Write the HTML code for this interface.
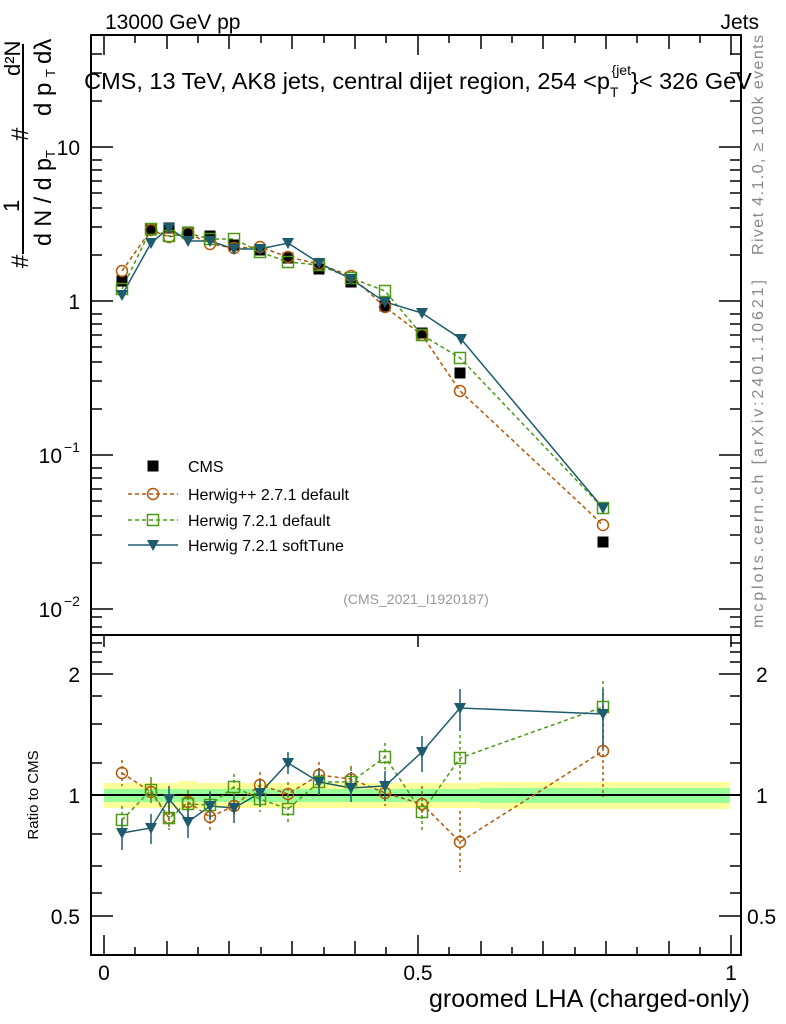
<!DOCTYPE html>
<html><head><meta charset="utf-8"><style>
body{margin:0;background:#fff}
svg{display:block;font-family:"Liberation Sans",sans-serif}
</style></head><body>
<svg width="786" height="1024" viewBox="0 0 786 1024" xmlns="http://www.w3.org/2000/svg">
<defs>
<rect id="cms" x="-5.5" y="-5.5" width="11" height="11" fill="#000"/>
<circle id="hc" r="5.5" fill="none" stroke="#b35806" stroke-width="1.5"/>
<rect id="gs" x="-5.5" y="-5.5" width="11" height="11" fill="none" stroke="#4d9a14" stroke-width="1.5"/>
<path id="st" d="M-6,-5 L6,-5 L0,6 Z" fill="#1d5c6e"/>
</defs>
<text x="105" y="29" font-size="21">13000 GeV pp</text>
<text x="759" y="29" font-size="21" text-anchor="end">Jets</text>

<rect x="91" y="35" width="650" height="600" fill="none" stroke="#000" stroke-width="2"/>
<g stroke="#000" stroke-width="1.5">
<path d="M91,147h22M91,301h22M91,455h22M91,609h22M741,147h-22M741,301h-22M741,455h-22M741,609h-22"/>
<path d="M91,54h11M91,73h11M91,101h11M91,255h11M91,227h11M91,208h11M91,193h11M91,181h11M91,170h11M91,160h11M91,409h11M91,381h11M91,362h11M91,347h11M91,335h11M91,324h11M91,314h11M91,563h11M91,535h11M91,516h11M91,501h11M91,489h11M91,478h11M91,468h11M91,617h11M91,627h11"/>
<path d="M741,54h-11M741,73h-11M741,101h-11M741,255h-11M741,227h-11M741,208h-11M741,193h-11M741,181h-11M741,170h-11M741,160h-11M741,409h-11M741,381h-11M741,362h-11M741,347h-11M741,335h-11M741,324h-11M741,314h-11M741,563h-11M741,535h-11M741,516h-11M741,501h-11M741,489h-11M741,478h-11M741,468h-11M741,617h-11M741,627h-11"/>
<path d="M104,35v20M418,35v20M731,35v20M135,35v8M167,35v14M198,35v8M229,35v14M261,35v8M292,35v14M324,35v8M355,35v14M386,35v8M449,35v8M481,35v14M512,35v8M543,35v14M575,35v8M606,35v14M637,35v8M669,35v14M700,35v8"/>
</g>
<text x="80" y="155" font-size="21" text-anchor="end">10</text>
<text x="80" y="309" font-size="21" text-anchor="end">1</text>
<text x="62" y="463" font-size="21" text-anchor="end">10</text><text x="64" y="452" font-size="14">−1</text>
<text x="62" y="617" font-size="21" text-anchor="end">10</text><text x="64" y="606" font-size="14">−2</text>

<g transform="rotate(-90)" font-size="24">
<text x="-268" y="28">#</text>
<text x="-212" y="19" font-size="22">1</text>
<rect x="-254" y="22" width="210" height="2" fill="#000"/>
<text x="-246" y="51" textLength="88" lengthAdjust="spacingAndGlyphs">d N / d p</text><text x="-158" y="55" font-size="13">T</text>
<text x="-141" y="28">#</text>
<text x="-76" y="20" font-size="22">d²N</text>
<text x="-116" y="51">d p</text><text x="-77" y="55" font-size="13">T</text><text x="-64" y="51">dλ</text>
</g>

<text x="418" y="89" font-size="23.5" text-anchor="middle">CMS, 13 TeV, AK8 jets, central dijet region, 254 &lt;p<tspan font-size="14" dy="8">T</tspan><tspan font-size="14" dy="-22" dx="-7">{jet</tspan><tspan dy="14">}&lt; 326 GeV</tspan></text>

<text transform="translate(763,255) rotate(-90)" font-size="16" fill="#888" textLength="220" lengthAdjust="spacing">Rivet 4.1.0, ≥ 100k events</text>
<text transform="translate(763,628) rotate(-90)" font-size="16" fill="#888" textLength="348" lengthAdjust="spacing">mcplots.cern.ch [arXiv:2401.10621]</text>

<use href="#cms" x="153" y="466"/><text x="188" y="472" font-size="16">CMS</text>
<path d="M128,494h50" stroke="#b35806" stroke-width="1.5" stroke-dasharray="4,3"/><use href="#hc" x="153" y="494"/><text x="188" y="500" font-size="16">Herwig++ 2.7.1 default</text>
<path d="M128,520h50" stroke="#4d9a14" stroke-width="1.5" stroke-dasharray="4,3"/><use href="#gs" x="153" y="520"/><text x="188" y="526" font-size="16">Herwig 7.2.1 default</text>
<path d="M128,545h50" stroke="#1d5c6e" stroke-width="1.5"/><use href="#st" x="153" y="545"/><text x="188" y="551" font-size="16">Herwig 7.2.1 softTune</text>
<text x="416" y="604" font-size="14" fill="#999" text-anchor="middle">(CMS_2021_I1920187)</text>

<polyline fill="none" stroke="#b35806" stroke-width="1.5" stroke-dasharray="4,3" points="122,271 151,230 169,237 188,233 210,244 234,248 260,247 288,257 319,264 351,276 385,307 422,335 460,391 603,525"/>
<polyline fill="none" stroke="#4d9a14" stroke-width="1.5" stroke-dasharray="4,3" points="122,289 151,229 169,236 188,233 210,239 234,239 260,252 288,262 319,265 351,278 385,291 422,335 460,358 603,508"/>
<polyline fill="none" stroke="#1d5c6e" stroke-width="1.5" points="122,295 151,243 169,228 188,241 210,241 234,249 260,249 288,243 319,263 351,279 385,302 422,313 461,339 603,508"/>
<g>
<use href="#cms" x="122" y="281"/><use href="#cms" x="151" y="230"/><use href="#cms" x="169" y="228"/><use href="#cms" x="188" y="232"/><use href="#cms" x="210" y="236"/><use href="#cms" x="234" y="245"/><use href="#cms" x="260" y="250"/><use href="#cms" x="288" y="258"/><use href="#cms" x="319" y="269"/><use href="#cms" x="351" y="282"/><use href="#cms" x="385" y="306"/><use href="#cms" x="422" y="333"/><use href="#cms" x="460" y="373"/><use href="#cms" x="603" y="542"/>
<use href="#hc" x="122" y="271"/><use href="#hc" x="151" y="230"/><use href="#hc" x="169" y="237"/><use href="#hc" x="188" y="233"/><use href="#hc" x="210" y="244"/><use href="#hc" x="234" y="248"/><use href="#hc" x="260" y="247"/><use href="#hc" x="288" y="257"/><use href="#hc" x="319" y="264"/><use href="#hc" x="351" y="276"/><use href="#hc" x="385" y="307"/><use href="#hc" x="422" y="335"/><use href="#hc" x="460" y="391"/><use href="#hc" x="603" y="525"/>
<use href="#gs" x="122" y="289"/><use href="#gs" x="151" y="229"/><use href="#gs" x="169" y="236"/><use href="#gs" x="188" y="233"/><use href="#gs" x="210" y="239"/><use href="#gs" x="234" y="239"/><use href="#gs" x="260" y="252"/><use href="#gs" x="288" y="262"/><use href="#gs" x="319" y="265"/><use href="#gs" x="351" y="278"/><use href="#gs" x="385" y="291"/><use href="#gs" x="422" y="335"/><use href="#gs" x="460" y="358"/><use href="#gs" x="603" y="508"/>
<use href="#st" x="122" y="295"/><use href="#st" x="151" y="243"/><use href="#st" x="169" y="228"/><use href="#st" x="188" y="241"/><use href="#st" x="210" y="241"/><use href="#st" x="234" y="249"/><use href="#st" x="260" y="249"/><use href="#st" x="288" y="243"/><use href="#st" x="319" y="263"/><use href="#st" x="351" y="279"/><use href="#st" x="385" y="302"/><use href="#st" x="422" y="313"/><use href="#st" x="461" y="339"/><use href="#st" x="603" y="508"/>
</g>

<rect x="104" y="783" width="626" height="25" fill="#ffff99"/>
<rect x="479" y="782" width="251" height="27" fill="#ffff99"/>
<rect x="178" y="781" width="20" height="28" fill="#ffff99"/>
<rect x="104" y="789" width="626" height="13" fill="#99ff99"/>
<rect x="479" y="788" width="251" height="15" fill="#99ff99"/>
<path d="M91,795H741" stroke="#000" stroke-width="2"/>
<rect x="91" y="635" width="650" height="320" fill="none" stroke="#000" stroke-width="2"/>
<g stroke="#000" stroke-width="1.5">
<path d="M91,674h22M91,795h22M91,916h22M741,674h-22M741,795h-22M741,916h-22"/>
<path d="M91,643h11M91,652h11M91,662h11M91,696h11M91,724h11M91,763h11M91,893h11M91,866h11M91,834h11M741,643h-11M741,652h-11M741,662h-11M741,696h-11M741,724h-11M741,763h-11M741,893h-11M741,866h-11M741,834h-11"/>
<path d="M104,955v-20M418,955v-20M731,955v-20M135,955v-8M167,955v-14M198,955v-8M229,955v-14M261,955v-8M292,955v-14M324,955v-8M355,955v-14M386,955v-8M449,955v-8M481,955v-14M512,955v-8M543,955v-14M575,955v-8M606,955v-14M637,955v-8M669,955v-14M700,955v-8"/>
<path d="M104,635v12M418,635v12M731,635v12"/>
</g>
<text x="80" y="682" font-size="21" text-anchor="end">2</text>
<text x="80" y="803" font-size="21" text-anchor="end">1</text>
<text x="80" y="924" font-size="21" text-anchor="end">0.5</text>
<text x="756" y="682" font-size="21">2</text>
<text x="756" y="803" font-size="21">1</text>
<text x="747" y="924" font-size="21">0.5</text>
<text transform="translate(38,795) rotate(-90)" font-size="15" text-anchor="middle">Ratio to CMS</text>
<text x="104" y="980" font-size="21" text-anchor="middle">0</text>
<text x="418" y="980" font-size="21" text-anchor="middle">0.5</text>
<text x="731" y="980" font-size="21" text-anchor="middle">1</text>
<text x="750" y="1007" font-size="25" text-anchor="end">groomed LHA (charged-only)</text>

<g stroke="#b35806" stroke-width="1.5" stroke-dasharray="3,3">
<path d="M122,760v26M151,780v22M169,806v22M188,790v24M210,803v27M234,793v24M260,772v26M288,782v24M319,762v26M351,766v26M385,780v26M422,786v36M460,811v61M603,706v91"/>
</g>
<g stroke="#4d9a14" stroke-width="1.5" stroke-dasharray="3,3">
<path d="M122,806v28M151,777v26M169,804v26M188,791v26M210,791v28M234,774v26M260,786v26M288,795v28M319,768v28M351,768v28M385,743v30M422,791v42M460,735v45M603,681v58"/>
</g>
<g stroke="#1d5c6e" stroke-width="1.5">
<path d="M122,820v30M151,814v30M169,786v28M188,806v32M210,792v28M234,795v28M260,779v28M288,752v22M319,768v26M351,772v30M385,771v30M422,736v36M460,689v42M603,689v60"/>
</g>
<polyline fill="none" stroke="#b35806" stroke-width="1.5" stroke-dasharray="4,3" points="122,773 151,792 169,818 188,802 210,817 234,806 260,785 288,794 319,775 351,779 385,793 422,804 460,842 603,751"/>
<polyline fill="none" stroke="#4d9a14" stroke-width="1.5" stroke-dasharray="4,3" points="122,820 151,790 169,818 188,804 210,805 234,787 260,799 288,809 319,782 351,782 385,757 422,812 460,758 603,707"/>
<polyline fill="none" stroke="#1d5c6e" stroke-width="1.5" points="122,833 151,828 169,799 188,822 210,806 234,808 260,793 288,763 319,782 351,788 385,786 422,752 460,708 603,714"/>
<g>
<use href="#hc" x="122" y="773"/><use href="#hc" x="151" y="792"/><use href="#hc" x="169" y="818"/><use href="#hc" x="188" y="802"/><use href="#hc" x="210" y="817"/><use href="#hc" x="234" y="806"/><use href="#hc" x="260" y="785"/><use href="#hc" x="288" y="794"/><use href="#hc" x="319" y="775"/><use href="#hc" x="351" y="779"/><use href="#hc" x="385" y="793"/><use href="#hc" x="422" y="804"/><use href="#hc" x="460" y="842"/><use href="#hc" x="603" y="751"/>
<use href="#gs" x="122" y="820"/><use href="#gs" x="151" y="790"/><use href="#gs" x="169" y="818"/><use href="#gs" x="188" y="804"/><use href="#gs" x="210" y="805"/><use href="#gs" x="234" y="787"/><use href="#gs" x="260" y="799"/><use href="#gs" x="288" y="809"/><use href="#gs" x="319" y="782"/><use href="#gs" x="351" y="782"/><use href="#gs" x="385" y="757"/><use href="#gs" x="422" y="812"/><use href="#gs" x="460" y="758"/><use href="#gs" x="603" y="707"/>
<use href="#st" x="122" y="833"/><use href="#st" x="151" y="828"/><use href="#st" x="169" y="799"/><use href="#st" x="188" y="822"/><use href="#st" x="210" y="806"/><use href="#st" x="234" y="808"/><use href="#st" x="260" y="793"/><use href="#st" x="288" y="763"/><use href="#st" x="319" y="782"/><use href="#st" x="351" y="788"/><use href="#st" x="385" y="786"/><use href="#st" x="422" y="752"/><use href="#st" x="460" y="708"/><use href="#st" x="603" y="714"/>
</g>
</svg>
</body></html>
